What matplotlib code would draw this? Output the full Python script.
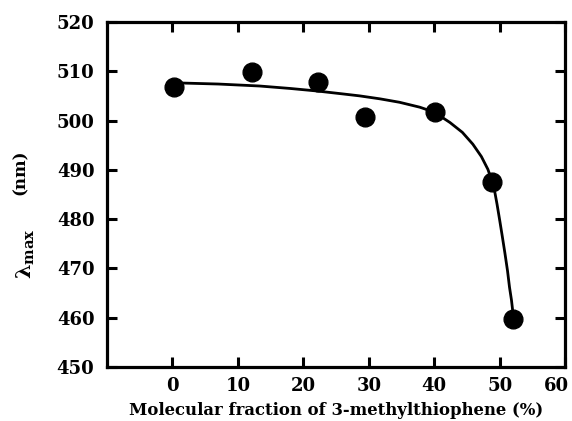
import matplotlib
matplotlib.use("Agg")
import matplotlib.pyplot as plt
import matplotlib.transforms as mtransforms

# measured points
frac = [0.2, 12.1, 22.3, 29.4, 40.1, 48.8, 52.1]
lam = [506.8, 509.9, 507.8, 500.7, 501.7, 487.6, 459.7]

# fitted curve
curve_x = [0.0, 1.5, 7.0, 13.3, 18.0, 22.0, 26.0, 28.6, 31.7, 34.7, 37.8, 40.0,
           42.4, 44.3, 45.9, 47.2, 48.2, 48.8, 49.2, 49.6, 50.0, 50.4, 50.8,
           51.2, 51.5, 51.8, 52.0]
curve_y = [507.7, 507.6, 507.4, 507.0, 506.5, 506.0, 505.4, 505.0, 504.4, 503.7,
           502.7, 501.7, 499.6, 497.6, 495.2, 492.7, 490.1, 487.8, 485.9, 483.0,
           479.8, 476.5, 473.1, 469.5, 466.2, 463.6, 461.3]

xticks = [0, 10, 20, 30, 40, 50, 60]
yticks = [450, 460, 470, 480, 490, 500, 510, 520]

plt.rcParams['font.family'] = ['DejaVu Serif']
plt.rcParams['font.weight'] = 'bold'
plt.rcParams['mathtext.fontset'] = 'custom'
plt.rcParams['mathtext.rm'] = 'DejaVu Serif:bold'
plt.rcParams['mathtext.it'] = 'DejaVu Serif:bold'
plt.rcParams['mathtext.bf'] = 'DejaVu Serif:bold'

fig = plt.figure(figsize=(5.72, 4.21), dpi=100)
ax = fig.add_axes([0.187, 0.128, 0.801, 0.820])

ax.plot(curve_x, curve_y, color='black', lw=2.0, solid_capstyle='round',
        solid_joinstyle='round')
ax.plot(frac, lam, 'o', color='black', ms=13.5, mec='black')

ax.set_xlim(-10, 60)
ax.set_ylim(450, 520)
ax.set_xticks(xticks)
ax.set_yticks(yticks)
for s in ax.spines.values():
    s.set_linewidth(2.3)
ax.tick_params(direction='in', length=7, width=2.2, top=True, right=True,
               labelsize=13)
ax.tick_params(axis='y', pad=9)
ax.tick_params(axis='x', pad=7)
for lab in ax.get_xticklabels() + ax.get_yticklabels():
    lab.set_fontweight('bold')
last = ax.get_xticklabels()[-1]
last.set_horizontalalignment('right')
last.set_transform(last.get_transform() +
                   mtransforms.ScaledTranslation(4 / 100, 0, fig.dpi_scale_trans))

ax.set_xlabel('Molecular fraction of 3-methylthiophene (%)', fontsize=11.9,
              fontweight='bold', labelpad=5)
fig.text(0.045, 1 - 254 / 421, r'$\mathrm{\lambda}_{\mathbf{max}}$', rotation=90,
         fontsize=15, fontweight='bold', ha='center', va='center')
fig.text(0.036, 1 - 172 / 421, '(nm)', rotation=90,
         fontsize=12, fontweight='bold', ha='center', va='center')

fig.savefig('out.png', dpi=100)
